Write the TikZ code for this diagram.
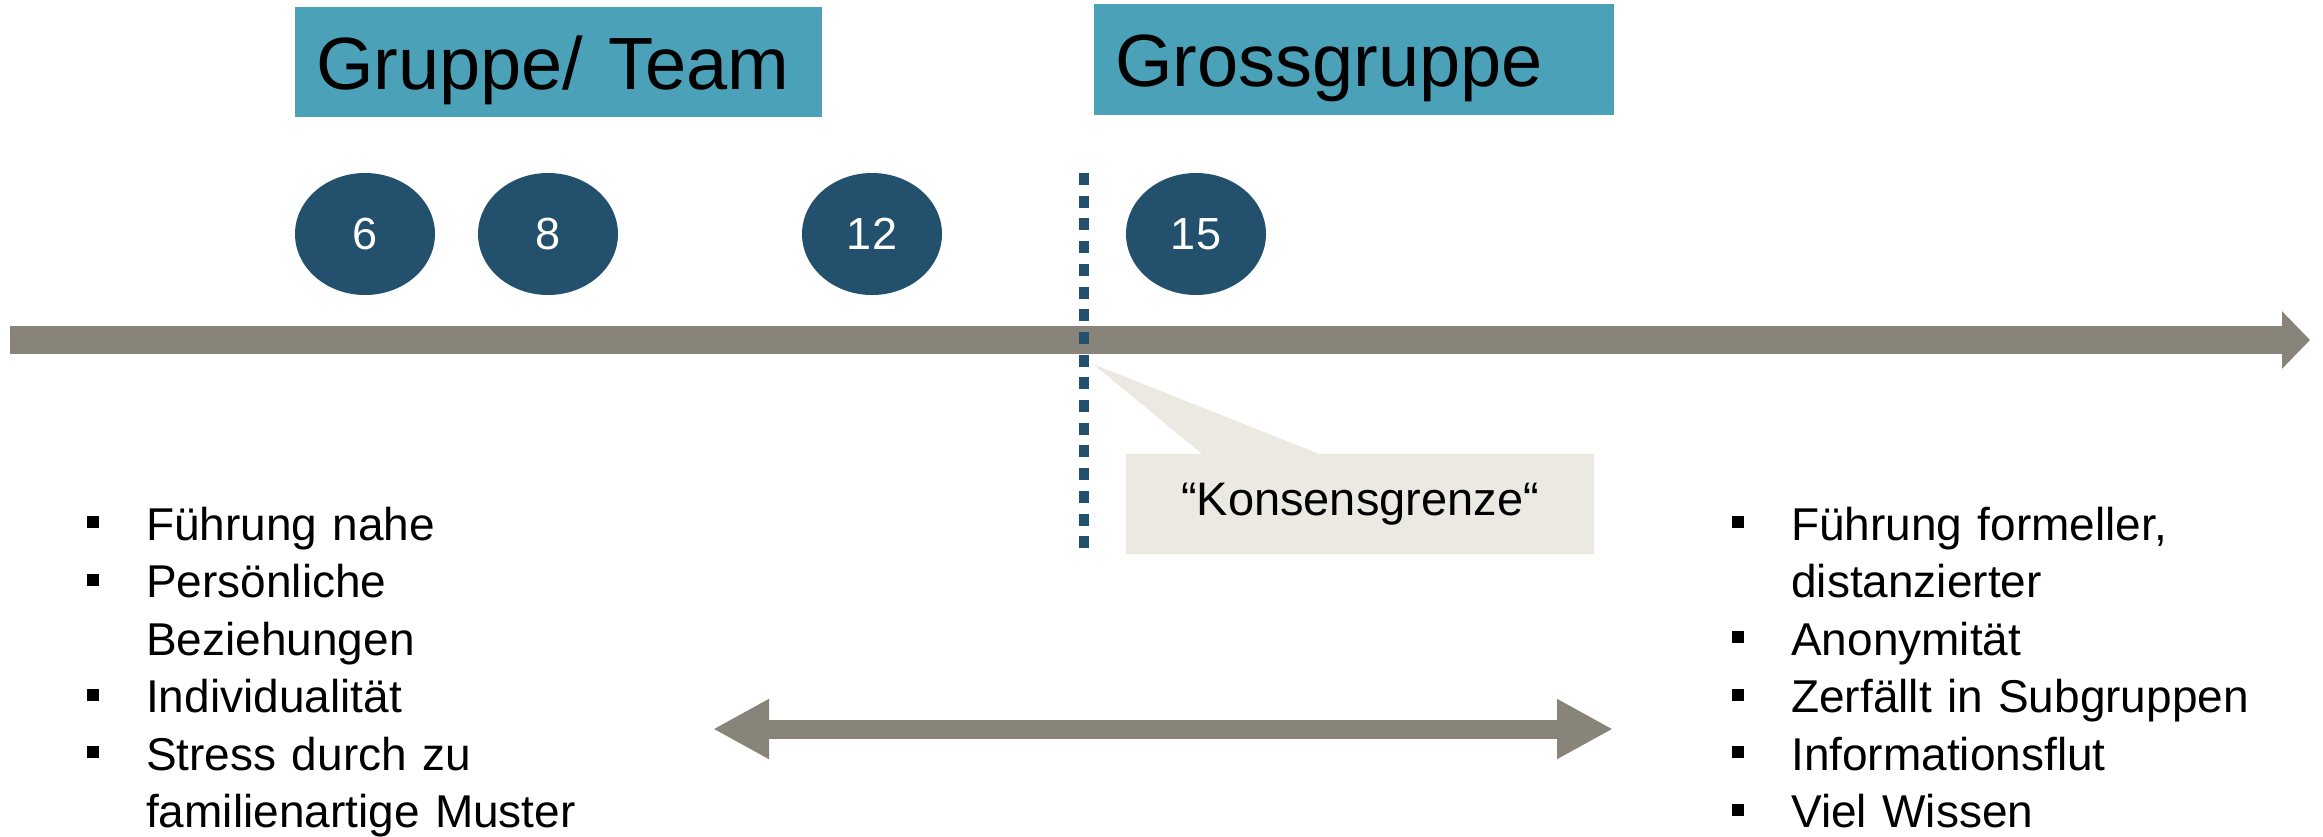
\documentclass[tikz,border=0pt]{standalone}
\usepackage{fontspec}
\setmainfont{Liberation Sans}
\usetikzlibrary{arrows.meta,shapes.geometric}
\definecolor{teal}{RGB}{74,161,184}
\definecolor{navy}{RGB}{34,80,109}
\definecolor{arrowgray}{RGB}{136,132,121}
\definecolor{calloutbg}{RGB}{236,232,226}
\newcommand{\bitem}[1]{\noindent\hangindent=59pt\hangafter=1 \makebox[59pt][l]{\rule[12pt]{12pt}{12pt}}#1\par}
\begin{document}
\begin{tikzpicture}[x=1pt,y=-1pt,
  titlebox/.style={fill=teal, anchor=north west, inner xsep=21pt, inner ysep=0pt,
    text height=54pt, text depth=0pt, align=left,
    font=\fontsize{74}{80}\selectfont},
  numball/.style={ellipse, fill=navy, minimum width=140pt, minimum height=122pt,
    inner sep=0pt, text=white, font=\fontsize{45}{50}\selectfont},
  calloutbox/.style={fill=calloutbg, minimum width=468pt, minimum height=100pt,
    inner sep=0pt, font=\fontsize{47}{50}\selectfont},
  bulletlist/.style={anchor=north west, inner sep=0pt, align=left,
    font=\fontsize{46}{57.5}\selectfont},
  bigarrow/.style={draw=arrowgray, line width=28pt,
    -{Triangle[length=28pt,width=56pt]}},
  dblarrow/.style={draw=arrowgray, line width=19pt,
    {Triangle[length=56pt,width=56pt]}-{Triangle[length=56pt,width=56pt]}},
  boundary/.style={draw=navy, line width=10pt, dash pattern=on 12pt off 10.7pt}
]
\useasboundingbox (0,0) rectangle (2323,836);

% title boxes
\node[titlebox, text width=485pt, minimum height=110pt] (team) at (295,7) {Gruppe/ Team};
\node[titlebox, text width=478pt, minimum height=111pt] (gross) at (1094,4) {Grossgruppe};

% main axis arrow
\coordinate (axstart) at (10,340);
\coordinate (axend) at (2310,340);
\draw[bigarrow] (axstart) -- (axend);

% number ellipses
\node[numball] (n6) at (365,234) {6};
\node[numball] (n8) at (548,234) {8};
\node[numball] (n12) at (872,234) {12};
\node[numball] (n15) at (1196,234) {15};

% callout
\node[calloutbox] (kons) at (1360,504) {“Konsensgrenze“};
\coordinate (ktip) at (1093,364);
\fill[calloutbg] ([xshift=76pt]kons.north west) -- (ktip) -- ([xshift=193pt]kons.north west) -- cycle;

% boundary line
\coordinate (btop) at (1084,173);
\coordinate (bbot) at (1084,548);
\draw[boundary] (btop) -- (bbot);

% double arrow
\coordinate (dl) at (713,729);
\coordinate (dr) at (1613,729);
\draw[dblarrow] (dl) -- (dr);

% bullet lists
\node[bulletlist, text width=560pt] (leftlist) at (87,500) {%
\bitem{\vrule height 40pt width 0pt Führung nahe}%
\bitem{Persönliche\newline Beziehungen}%
\bitem{Individualität}%
\bitem{Stress durch zu\newline familienartige Muster}};
\node[bulletlist, text width=600pt] (rightlist) at (1732,500) {%
\bitem{\vrule height 40pt width 0pt Führung formeller,\newline distanzierter}%
\bitem{Anonymität}%
\bitem{Zerfällt in Subgruppen}%
\bitem{Informationsflut}%
\bitem{Viel Wissen}};
\end{tikzpicture}
\end{document}
